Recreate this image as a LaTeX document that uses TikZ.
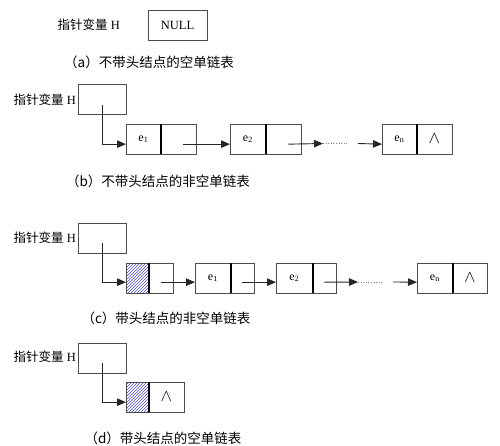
\documentclass[tikz,border=0pt]{standalone}
\usepackage{fontspec}
\setmainfont{Liberation Serif}
\newfontfamily\cjk{Noto Sans CJK SC}
\usetikzlibrary{arrows.meta,patterns}
\newcommand{\elem}[1]{e\textsubscript{#1}}
\begin{document}
\begin{tikzpicture}[x=1pt,y=-1pt,
  cell/.style={draw=black!70, line width=0.8pt, minimum height=29.5pt, inner sep=0pt, anchor=north west, font=\fontsize{12}{12}\selectfont},
  hbox/.style={draw=black!70, line width=0.8pt, minimum width=48pt, minimum height=30pt, inner sep=0pt, anchor=north west},
  divider/.style={line width=1.6pt, black},
  ptr/.style={draw=black!85, line width=0.9pt, -{Triangle[length=9pt,width=7.5pt]}},
  dots/.style={draw=black!50, line width=0.6pt, dotted},
  lbl/.style={anchor=east, inner sep=0pt, font=\fontsize{12.5}{12.5}\selectfont},
  captext/.style={inner sep=0pt, font=\cjk\fontsize{13.5}{13.5}\selectfont},
  hatch/.style={pattern=north east lines, pattern color={rgb,255:red,80;green,80;blue,200}},
  nil/.style={font=\fontsize{16}{16}\selectfont}
]
\useasboundingbox (0,0) rectangle (500,445);

% (a)
\node[lbl] (la) at (120,25) {{\cjk 指针变量} H};
\node[draw=black!70, line width=0.8pt, minimum width=59pt, minimum height=30pt, inner sep=0pt, font=\fontsize{12.5}{12.5}\selectfont] (nullbox) at (177.5,25) {NULL};
\node[captext] (capa) at (149,62) {（a）不带头结点的空单链表};

% (b)
\node[lbl] (lb) at (76,100) {{\cjk 指针变量} H};
\node[hbox] (hb) at (78,84) {};
\node[cell, minimum width=34pt] (b1d) at (126,124) {\elem{1}};
\node[cell, minimum width=36pt] (b1p) at (160,124) {};
\node[cell, minimum width=35pt] (b2d) at (230,124) {\elem{2}};
\node[cell, minimum width=36pt] (b2p) at (265,124) {};
\node[cell, minimum width=34pt] (bnd) at (382,124) {\elem{n}};
\node[cell, minimum width=36pt, nil] (bnp) at (416,124) {$\wedge$};
\draw[divider] (b1d.north east) -- (b1d.south east);
\draw[divider] (b2d.north east) -- (b2d.south east);
\draw[divider] (bnd.north east) -- (bnd.south east);
\draw[ptr] ([yshift=-6pt]hb.center) |- ([yshift=-5pt]b1d.west);
\draw[ptr] ([xshift=5pt,yshift=-5pt]b1p.center) -- ([yshift=-5pt]b2d.west);
\coordinate (bt) at (323,143.5);
\coordinate (bdots) at (347,143.5);
\coordinate (bs) at (358,143.5);
\draw[ptr] ([xshift=5pt,yshift=-5pt]b2p.center) -- (bt);
\draw[dots] (bt) -- (bdots);
\draw[ptr] (bs) -- ([yshift=-5pt]bnd.west);
\node[captext] (capb) at (158,181) {（b）不带头结点的非空单链表};

% (c)
\node[lbl] (lc) at (76,238) {{\cjk 指针变量} H};
\node[hbox] (hc) at (78,223) {};
\node[cell, minimum width=22pt, hatch] (c0d) at (126,263) {};
\node[cell, minimum width=25pt] (c0p) at (148,263) {};
\node[cell, minimum width=35pt] (c1d) at (195,263) {\elem{1}};
\node[cell, minimum width=24pt] (c1p) at (230,263) {};
\node[cell, minimum width=36pt] (c2d) at (276,263) {\elem{2}};
\node[cell, minimum width=24pt] (c2p) at (312,263) {};
\node[cell, minimum width=35pt] (cnd) at (417,263) {\elem{n}};
\node[cell, minimum width=35pt, nil] (cnp) at (452,263) {$\wedge$};
\draw[divider] (c0d.north east) -- (c0d.south east);
\draw[divider] (c1d.north east) -- (c1d.south east);
\draw[divider] (c2d.north east) -- (c2d.south east);
\draw[divider] (cnd.north east) -- (cnd.south east);
\draw[ptr] ([yshift=-5pt]hc.center) |- ([yshift=-4pt]c0d.west);
\draw[ptr] ([yshift=-4pt]c0p.center) -- ([yshift=-4pt]c1d.west);
\draw[ptr] ([yshift=-4pt]c1p.center) -- ([yshift=-4pt]c2d.west);
\coordinate (ct) at (358,282);
\coordinate (cdots) at (382,282);
\coordinate (cs) at (393,282);
\draw[ptr] ([yshift=-4pt]c2p.center) -- (ct);
\draw[dots] (ct) -- (cdots);
\draw[ptr] (cs) -- ([yshift=-4pt]cnd.west);
\node[captext] (capc) at (166,318) {（c）带头结点的非空单链表};

% (d)
\node[lbl] (ld) at (76,357) {{\cjk 指针变量} H};
\node[hbox] (hd) at (78,343) {};
\node[cell, minimum width=22pt, hatch] (d0d) at (126,382) {};
\node[cell, minimum width=36pt, nil] (d0p) at (148,382) {$\wedge$};
\draw[divider] (d0d.north east) -- (d0d.south east);
\draw[ptr] ([yshift=-5pt]hd.center) |- ([yshift=-5pt]d0d.west);
\node[captext] (capd) at (163,438) {（d）带头结点的空单链表};
\end{tikzpicture}
\end{document}
